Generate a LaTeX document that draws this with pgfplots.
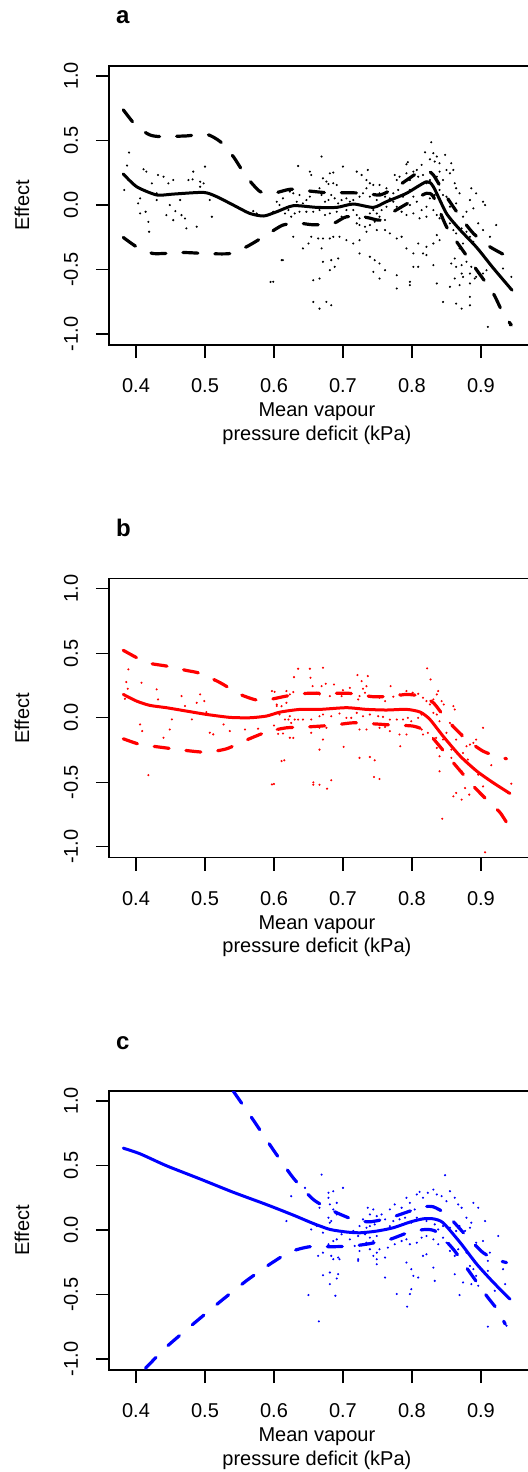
\documentclass[border=0pt]{standalone}
\usepackage{fontspec}
\setmainfont{Liberation Sans}
\usepackage{pgfplots}
\pgfplotsset{compat=1.18}
\pgfplotsset{
  panel/.style={
    scale only axis, width=213pt, height=139.5pt,
    xmin=0.3609, xmax=0.9783, ymin=-1.085, ymax=1.078,
    xtick={0.4,0.5,0.6,0.7,0.8,0.9},
    xticklabels={0.4,0.5,0.6,0.7,0.8,0.9},
    ytick={-1,-0.5,0,0.5,1},
    yticklabels={-1.0,-0.5,0.0,0.5,1.0},
    xtick pos=bottom, ytick pos=left,
    tick align=outside, major tick length=6.5pt,
    tick style={line width=0.6pt, black},
    axis line style={line width=0.6pt},
    tick label style={font=\fontsize{10}{12}\selectfont},
    xticklabel style={anchor=north},
    yticklabel style={rotate=90, anchor=south},
    xticklabel shift=6.7pt, yticklabel shift=5.4pt,
    xlabel={Mean vapour\\pressure deficit (kPa)},
    xlabel style={font=\fontsize{10}{11.7}\selectfont, align=center,
      at={(axis description cs:0.488,-0.182)}, anchor=north},
    ylabel={Effect},
    ylabel style={font=\fontsize{10}{12}\selectfont,
      at={(axis description cs:-0.204,0.5)}, anchor=center},
    clip=true,
  },
  fit/.style={line width=1.5pt, smooth, tension=0.4, line cap=round, line join=round},
  band/.style={line width=1.6pt, smooth, tension=0.4, line cap=round, line join=round,
    dash pattern=on 7.5pt off 8.5pt},
  dots/.style={only marks, mark=*, mark size=0.3pt},
}
\begin{document}
\begin{tikzpicture}
% ---------------- panel a ----------------
\begin{axis}[panel, at={(54.5pt,-33pt)}, anchor=north west]
\addplot[dots, black] table[row sep=\\] {
0.828 0.487\\ 0.819 0.409\\ 0.831 0.402\\ 0.836 0.376\\ 0.826 0.355\\ 0.833 0.337\\ 0.840 0.324\\ 0.848 0.389\\ 0.857 0.324\\ 0.794 0.332\\
0.792 0.316\\ 0.669 0.376\\ 0.635 0.303\\ 0.700 0.298\\ 0.652 0.259\\ 0.654 0.233\\ 0.681 0.246\\ 0.686 0.252\\ 0.671 0.207\\ 0.676 0.182\\
0.679 0.163\\ 0.686 0.169\\ 0.691 0.156\\ 0.720 0.259\\ 0.736 0.272\\ 0.727 0.233\\ 0.734 0.194\\ 0.739 0.169\\ 0.744 0.156\\ 0.753 0.156\\
0.763 0.130\\ 0.775 0.233\\ 0.778 0.194\\ 0.782 0.220\\ 0.787 0.169\\ 0.792 0.246\\ 0.797 0.194\\ 0.802 0.259\\ 0.807 0.272\\ 0.809 0.220\\
0.814 0.311\\ 0.816 0.233\\ 0.821 0.169\\ 0.826 0.194\\ 0.836 0.220\\ 0.840 0.259\\ 0.845 0.194\\ 0.850 0.272\\ 0.855 0.246\\ 0.860 0.272\\
0.862 0.169\\ 0.864 0.130\\ 0.869 0.091\\ 0.886 0.130\\ 0.893 0.091\\ 0.903 0.026\\ 0.906 0.000\\ 0.884 0.039\\ 0.889 -0.026\\ 0.879 -0.052\\
0.874 -0.090\\ 0.864 0.013\\ 0.855 -0.013\\ 0.850 0.065\\ 0.845 0.078\\ 0.840 0.117\\ 0.833 0.078\\ 0.826 0.052\\ 0.821 -0.013\\ 0.814 -0.039\\
0.807 0.026\\ 0.802 0.065\\ 0.797 0.000\\ 0.797 0.117\\ 0.787 0.065\\ 0.780 0.117\\ 0.773 0.091\\ 0.768 0.052\\ 0.761 0.065\\ 0.753 0.091\\
0.749 0.039\\ 0.739 0.065\\ 0.734 0.130\\ 0.729 0.091\\ 0.724 0.065\\ 0.715 0.039\\ 0.710 0.026\\ 0.705 0.052\\ 0.698 0.039\\ 0.693 0.013\\
0.688 0.052\\ 0.683 0.078\\ 0.679 0.039\\ 0.674 0.026\\ 0.669 0.078\\ 0.666 0.130\\ 0.662 0.104\\ 0.652 0.065\\ 0.647 0.039\\ 0.642 0.013\\
0.637 0.078\\ 0.633 0.026\\ 0.628 0.091\\ 0.623 0.104\\ 0.613 0.052\\ 0.608 0.000\\ 0.604 0.026\\ 0.621 -0.039\\ 0.616 -0.065\\ 0.625 -0.090\\
0.630 -0.065\\ 0.637 -0.052\\ 0.647 -0.052\\ 0.657 -0.052\\ 0.666 -0.039\\ 0.674 -0.077\\ 0.681 -0.065\\ 0.691 -0.052\\ 0.698 -0.090\\ 0.705 -0.039\\
0.715 -0.039\\ 0.720 -0.077\\ 0.724 -0.103\\ 0.732 -0.090\\ 0.739 -0.065\\ 0.744 -0.039\\ 0.749 -0.065\\ 0.753 -0.090\\ 0.761 -0.116\\ 0.746 -0.129\\
0.739 -0.155\\ 0.732 -0.168\\ 0.724 -0.155\\ 0.720 -0.142\\ 0.756 -0.039\\ 0.763 -0.013\\ 0.773 0.026\\ 0.778 -0.013\\ 0.785 -0.052\\ 0.792 -0.077\\
0.802 -0.065\\ 0.811 -0.103\\ 0.821 -0.090\\ 0.831 -0.039\\ 0.836 -0.077\\ 0.840 -0.103\\ 0.845 -0.116\\ 0.850 -0.065\\ 0.855 -0.142\\ 0.860 -0.194\\
0.864 -0.220\\ 0.872 -0.181\\ 0.879 -0.207\\ 0.884 -0.246\\ 0.889 -0.285\\ 0.896 -0.142\\ 0.903 -0.194\\ 0.922 -0.155\\ 0.913 -0.246\\ 0.874 -0.298\\
0.869 -0.336\\ 0.862 -0.414\\ 0.857 -0.453\\ 0.864 -0.479\\ 0.872 -0.466\\ 0.879 -0.440\\ 0.886 -0.479\\ 0.884 -0.531\\ 0.893 -0.557\\ 0.903 -0.531\\
0.908 -0.505\\ 0.872 -0.531\\ 0.874 -0.557\\ 0.862 -0.570\\ 0.884 -0.608\\ 0.869 -0.621\\ 0.932 -0.492\\ 0.944 -0.557\\ 0.840 -0.272\\ 0.836 -0.233\\
0.831 -0.298\\ 0.821 -0.324\\ 0.816 -0.375\\ 0.809 -0.298\\ 0.802 -0.375\\ 0.792 -0.336\\ 0.785 -0.246\\ 0.778 -0.259\\ 0.768 -0.220\\ 0.761 -0.194\\
0.749 -0.194\\ 0.734 -0.207\\ 0.724 -0.272\\ 0.715 -0.298\\ 0.705 -0.272\\ 0.695 -0.246\\ 0.686 -0.246\\ 0.681 -0.259\\ 0.671 -0.259\\ 0.664 -0.259\\
0.654 -0.246\\ 0.650 -0.298\\ 0.642 -0.336\\ 0.628 -0.246\\ 0.613 -0.427\\ 0.599 -0.595\\ 0.669 -0.336\\ 0.671 -0.440\\ 0.683 -0.427\\ 0.693 -0.414\\
0.688 -0.479\\ 0.681 -0.505\\ 0.666 -0.570\\ 0.657 -0.583\\ 0.724 -0.375\\ 0.739 -0.401\\ 0.746 -0.427\\ 0.753 -0.453\\ 0.761 -0.505\\ 0.744 -0.518\\
0.753 -0.570\\ 0.778 -0.647\\ 0.797 -0.595\\ 0.797 -0.621\\ 0.802 -0.479\\ 0.809 -0.479\\ 0.821 -0.388\\ 0.831 -0.466\\ 0.836 -0.608\\ 0.845 -0.751\\
0.855 -0.634\\ 0.864 -0.764\\ 0.872 -0.803\\ 0.884 -0.777\\ 0.884 -0.712\\ 0.891 -0.570\\ 0.910 -0.945\\ 0.942 -0.932\\ 0.657 -0.751\\ 0.666 -0.803\\
0.676 -0.751\\ 0.683 -0.777\\ 0.778 -0.544\\
0.390 0.407\\ 0.383 0.117\\ 0.387 0.306\\ 0.411 0.277\\ 0.406 0.052\\ 0.403 0.013\\ 0.414 -0.052\\ 0.418 -0.130\\ 0.419 -0.207\\ 0.430 0.039\\
0.432 0.233\\ 0.440 0.220\\ 0.444 -0.078\\ 0.449 0.000\\ 0.454 0.194\\ 0.464 0.039\\ 0.466 -0.078\\ 0.471 -0.104\\ 0.473 -0.181\\ 0.476 0.194\\
0.483 0.259\\ 0.488 -0.168\\ 0.493 0.181\\ 0.498 0.168\\ 0.500 0.298\\ 0.507 0.039\\ 0.510 -0.091\\ 0.493 0.142\\ 0.482 0.199\\ 0.447 0.168\\
0.423 0.168\\ 0.415 0.259\\ 0.457 -0.047\\ 0.454 -0.117\\ 0.406 -0.065\\ 0.430 0.091\\ 0.570 -0.047\\ 0.575 -0.065\\ 0.595 -0.596\\ 0.611 -0.427\\
0.599 -0.052\\
};
\addplot[fit, black] coordinates {(0.3816,0.241)(0.401,0.142)(0.430,0.078)(0.454,0.085)(0.498,0.098)(0.517,0.065)(0.541,0.0)(0.565,-0.065)(0.585,-0.085)(0.604,-0.052)(0.628,-0.005)(0.662,-0.018)(0.691,-0.018)(0.715,0.008)(0.744,-0.018)(0.763,0.026)(0.792,0.091)(0.821,0.181)(0.831,0.142)(0.850,-0.065)(0.870,-0.194)(0.894,-0.33)(0.918,-0.49)(0.945,-0.66)};
\addplot[band, black] coordinates {(0.3816,0.738)(0.401,0.609)(0.420,0.544)(0.435,0.531)(0.473,0.536)(0.502,0.549)(0.522,0.492)(0.541,0.376)(0.560,0.220)(0.580,0.104)(0.599,0.091)(0.623,0.122)(0.647,0.111)(0.676,0.096)(0.705,0.096)(0.734,0.091)(0.754,0.078)(0.778,0.142)(0.807,0.246)(0.821,0.267)(0.831,0.233)(0.850,0.065)(0.870,-0.091)(0.889,-0.22)(0.913,-0.324)(0.944,-0.415)};
\addplot[band, black] coordinates {(0.3816,-0.251)(0.401,-0.324)(0.425,-0.376)(0.469,-0.368)(0.502,-0.376)(0.536,-0.376)(0.560,-0.324)(0.585,-0.246)(0.613,-0.155)(0.638,-0.142)(0.657,-0.153)(0.686,-0.142)(0.705,-0.091)(0.734,-0.096)(0.754,-0.117)(0.773,-0.052)(0.802,0.039)(0.821,0.091)(0.831,0.065)(0.850,-0.168)(0.870,-0.324)(0.894,-0.505)(0.918,-0.687)(0.932,-0.84)(0.944,-0.93)};
\end{axis}
\node[anchor=base west, font=\fontsize{12}{14}\selectfont\bfseries] at (54.5pt,-12pt) {a};
% ---------------- panel b ----------------
\begin{axis}[panel, at={(54.5pt,-289.35pt)}, anchor=north west]
\addplot[dots, red] table[row sep=\\] {
0.671 0.388\\ 0.652 0.380\\ 0.635 0.380\\ 0.629 0.315\\ 0.653 0.310\\ 0.721 0.331\\ 0.736 0.323\\ 0.727 0.284\\ 0.822 0.383\\ 0.827 0.297\\
0.656 0.245\\ 0.669 0.245\\ 0.675 0.264\\ 0.687 0.258\\ 0.729 0.225\\ 0.734 0.245\\ 0.710 0.232\\ 0.700 0.214\\ 0.769 0.245\\ 0.601 0.201\\
0.618 0.207\\ 0.623 0.181\\ 0.628 0.199\\ 0.662 0.194\\ 0.666 0.181\\ 0.681 0.168\\ 0.698 0.168\\ 0.722 0.142\\ 0.724 0.168\\ 0.732 0.194\\
0.739 0.168\\ 0.753 0.155\\ 0.761 0.129\\ 0.773 0.163\\ 0.782 0.181\\ 0.792 0.207\\ 0.801 0.194\\ 0.809 0.186\\ 0.816 0.155\\ 0.821 0.129\\
0.826 0.103\\ 0.831 0.142\\ 0.836 0.181\\ 0.838 0.207\\ 0.843 0.129\\ 0.846 0.103\\ 0.836 0.090\\ 0.831 0.038\\ 0.821 0.012\\ 0.826 -0.014\\
0.836 0.025\\ 0.840 -0.027\\ 0.860 0.090\\ 0.862 0.064\\ 0.604 0.103\\ 0.611 0.090\\ 0.608 0.025\\ 0.616 0.051\\ 0.623 0.012\\ 0.630 -0.014\\
0.635 -0.014\\ 0.642 -0.014\\ 0.654 -0.014\\ 0.666 0.012\\ 0.671 0.025\\ 0.683 0.012\\ 0.695 0.033\\ 0.705 -0.001\\ 0.712 -0.001\\ 0.720 0.038\\
0.729 0.012\\ 0.739 0.025\\ 0.751 0.012\\ 0.758 0.007\\ 0.768 -0.014\\ 0.778 -0.014\\ 0.787 -0.014\\ 0.794 -0.001\\ 0.799 -0.027\\ 0.809 -0.001\\
0.814 0.025\\ 0.621 -0.014\\ 0.625 -0.040\\ 0.600 -0.060\\ 0.604 -0.091\\ 0.613 -0.122\\ 0.606 -0.125\\ 0.628 -0.156\\ 0.654 -0.117\\ 0.666 -0.078\\
0.676 -0.078\\ 0.724 -0.091\\ 0.734 -0.091\\ 0.753 -0.078\\ 0.761 -0.071\\ 0.768 -0.104\\ 0.782 -0.130\\ 0.792 -0.130\\ 0.814 -0.091\\ 0.816 -0.130\\
0.823 -0.117\\ 0.831 -0.169\\ 0.836 -0.234\\ 0.840 -0.299\\ 0.850 -0.117\\ 0.855 -0.040\\ 0.864 -0.091\\ 0.872 -0.143\\ 0.879 -0.221\\ 0.884 -0.208\\
0.889 -0.195\\ 0.893 -0.169\\ 0.903 -0.078\\ 0.864 -0.169\\ 0.857 -0.247\\ 0.874 -0.273\\ 0.881 -0.324\\ 0.857 -0.311\\ 0.840 -0.415\\ 0.845 -0.169\\
0.835 -0.156\\ 0.671 -0.169\\ 0.666 -0.247\\ 0.701 -0.226\\ 0.783 -0.221\\ 0.724 -0.311\\ 0.739 -0.304\\ 0.746 -0.330\\ 0.615 -0.330\\ 0.600 -0.513\\
0.657 -0.501\\ 0.657 -0.519\\ 0.666 -0.519\\ 0.677 -0.550\\ 0.683 -0.485\\ 0.745 -0.459\\ 0.753 -0.475\\ 0.860 -0.609\\ 0.864 -0.583\\ 0.872 -0.635\\
0.877 -0.545\\ 0.883 -0.596\\ 0.944 -0.511\\ 0.939 -0.583\\ 0.915 -0.368\\ 0.896 -0.441\\ 0.872 -0.415\\ 0.844 -0.783\\ 0.903 -0.532\\ 0.906 -1.043\\
0.389 0.375\\ 0.386 0.277\\ 0.384 0.147\\ 0.388 0.225\\ 0.408 0.272\\ 0.406 -0.052\\ 0.409 -0.103\\ 0.418 -0.445\\ 0.430 0.220\\ 0.432 0.142\\
0.440 -0.155\\ 0.449 -0.091\\ 0.452 -0.013\\ 0.466 0.168\\ 0.471 0.091\\ 0.481 -0.013\\ 0.488 0.116\\ 0.493 0.181\\ 0.499 0.129\\ 0.502 0.044\\
0.507 -0.116\\ 0.512 -0.129\\ 0.527 -0.052\\ 0.536 -0.103\\ 0.558 -0.091\\ 0.577 -0.085\\ 0.597 0.207\\ 0.597 -0.517\\ 0.611 -0.336\\ 0.604 0.091\\
0.616 -0.013\\ 0.618 0.116\\ 0.623 -0.155\\ 0.589 0.013\\
};
\addplot[fit, red] coordinates {(0.3816,0.181)(0.401,0.129)(0.420,0.096)(0.444,0.078)(0.473,0.052)(0.502,0.026)(0.536,0.003)(0.565,0.0)(0.589,0.013)(0.609,0.044)(0.638,0.065)(0.667,0.065)(0.705,0.078)(0.734,0.065)(0.763,0.060)(0.792,0.065)(0.812,0.044)(0.826,-0.013)(0.845,-0.142)(0.870,-0.298)(0.894,-0.414)(0.918,-0.505)(0.942,-0.587)};
\addplot[band, red] coordinates {(0.3816,0.523)(0.401,0.466)(0.420,0.422)(0.444,0.401)(0.473,0.367)(0.493,0.344)(0.522,0.272)(0.551,0.181)(0.575,0.137)(0.594,0.142)(0.618,0.168)(0.647,0.189)(0.681,0.189)(0.710,0.189)(0.744,0.163)(0.773,0.168)(0.792,0.181)(0.812,0.168)(0.831,0.116)(0.850,-0.013)(0.879,-0.168)(0.903,-0.259)(0.923,-0.298)(0.937,-0.318)};
\addplot[band, red] coordinates {(0.3816,-0.163)(0.406,-0.207)(0.435,-0.228)(0.473,-0.254)(0.502,-0.267)(0.531,-0.241)(0.560,-0.173)(0.589,-0.111)(0.618,-0.078)(0.652,-0.070)(0.686,-0.057)(0.715,-0.039)(0.744,-0.047)(0.773,-0.057)(0.802,-0.065)(0.821,-0.104)(0.836,-0.194)(0.860,-0.349)(0.889,-0.530)(0.913,-0.660)(0.928,-0.737)(0.941,-0.846)};
\end{axis}
\node[anchor=base west, font=\fontsize{12}{14}\selectfont\bfseries] at (54.5pt,-268.35pt) {b};
% ---------------- panel c ----------------
\begin{axis}[panel, at={(54.5pt,-545.5pt)}, anchor=north west]
\addplot[dots, blue] table[row sep=\\] {
0.669 0.430\\ 0.848 0.425\\ 0.625 0.263\\ 0.645 0.327\\ 0.679 0.289\\ 0.686 0.301\\ 0.700 0.327\\ 0.679 0.250\\ 0.691 0.211\\ 0.681 0.199\\
0.666 0.173\\ 0.686 0.160\\ 0.691 0.121\\ 0.679 0.096\\ 0.683 0.070\\ 0.681 0.057\\ 0.669 0.031\\ 0.662 0.031\\ 0.654 0.005\\ 0.618 0.070\\
0.671 -0.020\\ 0.691 -0.072\\ 0.698 -0.033\\ 0.686 -0.085\\ 0.679 -0.110\\ 0.671 -0.175\\ 0.664 -0.200\\ 0.683 -0.200\\ 0.693 -0.213\\ 0.686 -0.226\\
0.695 -0.226\\ 0.681 -0.329\\ 0.693 -0.342\\ 0.691 -0.375\\ 0.671 -0.350\\ 0.681 -0.419\\ 0.650 -0.504\\ 0.689 -0.509\\ 0.665 -0.708\\ 0.722 -0.239\\
0.724 -0.162\\ 0.734 -0.098\\ 0.736 0.173\\ 0.744 0.160\\ 0.739 0.121\\ 0.729 0.083\\ 0.724 0.031\\ 0.734 0.018\\ 0.739 0.031\\ 0.746 0.044\\
0.749 0.108\\ 0.756 0.121\\ 0.761 0.083\\ 0.768 0.160\\ 0.775 0.199\\ 0.785 0.173\\ 0.792 0.250\\ 0.797 0.211\\ 0.804 0.160\\ 0.807 0.276\\
0.811 0.296\\ 0.816 0.250\\ 0.823 0.289\\ 0.831 0.314\\ 0.836 0.276\\ 0.843 0.263\\ 0.850 0.224\\ 0.855 0.301\\ 0.862 0.250\\ 0.867 0.199\\
0.872 0.173\\ 0.879 0.096\\ 0.886 0.057\\ 0.889 0.211\\ 0.896 0.173\\ 0.906 0.070\\ 0.884 0.018\\ 0.877 -0.007\\ 0.869 0.031\\ 0.864 -0.007\\
0.855 0.018\\ 0.845 0.031\\ 0.838 0.005\\ 0.833 0.044\\ 0.826 0.005\\ 0.821 0.070\\ 0.814 0.083\\ 0.807 0.096\\ 0.799 0.057\\ 0.790 0.096\\
0.782 0.083\\ 0.773 0.070\\ 0.768 0.031\\ 0.763 0.005\\ 0.753 -0.007\\ 0.749 -0.046\\ 0.744 -0.085\\ 0.739 -0.059\\ 0.732 -0.033\\ 0.722 -0.046\\
0.715 -0.007\\ 0.710 -0.072\\ 0.717 -0.123\\ 0.729 -0.110\\ 0.739 -0.149\\ 0.749 -0.175\\ 0.753 -0.149\\ 0.744 -0.200\\ 0.749 -0.226\\ 0.761 -0.213\\
0.765 -0.136\\ 0.775 -0.110\\ 0.785 -0.085\\ 0.792 -0.072\\ 0.797 -0.110\\ 0.807 -0.098\\ 0.814 -0.059\\ 0.821 -0.046\\ 0.831 -0.072\\ 0.838 -0.110\\
0.845 -0.059\\ 0.850 -0.098\\ 0.855 -0.162\\ 0.862 -0.200\\ 0.867 -0.149\\ 0.874 -0.123\\ 0.879 -0.175\\ 0.886 -0.213\\ 0.891 -0.252\\ 0.884 -0.278\\
0.889 -0.303\\ 0.893 -0.098\\ 0.903 -0.085\\ 0.913 -0.175\\ 0.925 -0.046\\ 0.910 -0.239\\ 0.910 -0.316\\ 0.862 -0.342\\ 0.874 -0.406\\ 0.886 -0.419\\
0.893 -0.355\\ 0.896 -0.432\\ 0.903 -0.316\\ 0.920 -0.471\\ 0.816 -0.200\\ 0.821 -0.188\\ 0.831 -0.291\\ 0.833 -0.394\\ 0.799 -0.303\\ 0.802 -0.355\\
0.809 -0.368\\ 0.792 -0.252\\ 0.778 -0.496\\ 0.797 -0.496\\ 0.799 -0.458\\ 0.793 -0.594\\ 0.761 -0.368\\ 0.869 -0.504\\ 0.910 -0.749\\ 0.937 -0.741\\
0.932 -0.303\\ 0.935 -0.419\\ 0.722 -0.226\\ 0.749 -0.265\\
};
\addplot[fit, blue] coordinates {(0.3816,0.635)(0.406,0.591)(0.444,0.499)(0.493,0.396)(0.541,0.293)(0.589,0.198)(0.628,0.116)(0.657,0.051)(0.681,0.005)(0.705,-0.015)(0.725,-0.021)(0.749,-0.008)(0.773,0.018)(0.797,0.062)(0.816,0.087)(0.831,0.087)(0.845,0.057)(0.870,-0.098)(0.894,-0.265)(0.918,-0.406)(0.942,-0.535)};
\addplot[band, blue] coordinates {(0.3816,2.30)(0.45,1.78)(0.50,1.39)(0.541,1.077)(0.570,0.853)(0.599,0.622)(0.628,0.404)(0.657,0.237)(0.686,0.147)(0.715,0.082)(0.739,0.064)(0.768,0.095)(0.797,0.147)(0.816,0.180)(0.831,0.180)(0.850,0.121)(0.879,-0.046)(0.903,-0.175)(0.923,-0.231)(0.937,-0.252)};
\addplot[band, blue] coordinates {(0.3816,-1.25)(0.4155,-1.062)(0.444,-0.907)(0.483,-0.728)(0.522,-0.555)(0.560,-0.393)(0.594,-0.265)(0.623,-0.170)(0.652,-0.129)(0.686,-0.129)(0.715,-0.123)(0.739,-0.105)(0.768,-0.072)(0.797,-0.015)(0.821,0.005)(0.836,-0.015)(0.860,-0.149)(0.884,-0.329)(0.908,-0.509)(0.923,-0.612)(0.935,-0.728)};
\end{axis}
\node[anchor=base west, font=\fontsize{12}{14}\selectfont\bfseries] at (54.5pt,-524.5pt) {c};
\pgfresetboundingbox
\useasboundingbox (0,0) rectangle (264pt,-736pt);
\end{tikzpicture}
\end{document}
